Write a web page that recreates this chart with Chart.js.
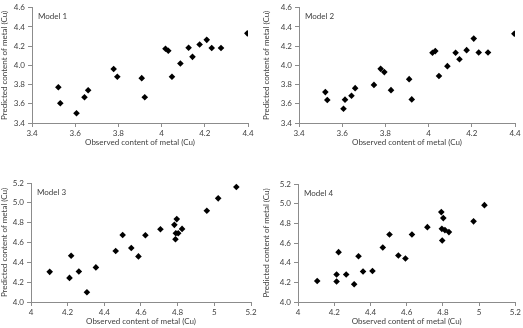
<!DOCTYPE html>
<html>
<head>
<meta charset="utf-8">
<script src="https://cdn.jsdelivr.net/npm/chart.js@4"></script>
<style>
  html, body { margin: 0; padding: 0; background: #fff; }
  #wrap { position: relative; width: 523px; height: 328px; }
  canvas { position: absolute; }
</style>
</head>
<body>
<div id="wrap">
  <canvas id="m1" width="262" height="164" style="left:0;top:0"></canvas>
  <canvas id="m2" width="261" height="164" style="left:262px;top:0"></canvas>
  <canvas id="m3" width="262" height="164" style="left:0;top:164px"></canvas>
  <canvas id="m4" width="261" height="164" style="left:262px;top:164px"></canvas>
</div>
<script>
// observed vs predicted Cu
var obs1 = [3.522, 3.531, 3.606, 3.643, 3.660, 3.778, 3.795, 3.908, 3.922, 4.018, 4.031, 4.048, 4.087, 4.125, 4.143, 4.176, 4.209, 4.232, 4.275, 4.397];
var pred1 = [3.772, 3.605, 3.502, 3.669, 3.741, 3.962, 3.881, 3.867, 3.669, 4.174, 4.153, 3.881, 4.020, 4.184, 4.089, 4.218, 4.266, 4.181, 4.181, 4.334];

var obs2 = [3.522, 3.531, 3.606, 3.613, 3.643, 3.660, 3.747, 3.778, 3.795, 3.826, 3.910, 3.922, 4.018, 4.031, 4.048, 4.087, 4.125, 4.143, 4.176, 4.209, 4.232, 4.275, 4.397];
var pred2 = [3.722, 3.640, 3.548, 3.643, 3.684, 3.763, 3.797, 3.964, 3.930, 3.742, 3.857, 3.646, 4.132, 4.149, 3.889, 3.992, 4.132, 4.064, 4.159, 4.279, 4.135, 4.135, 4.330];

var obs3 = [4.102, 4.210, 4.219, 4.261, 4.305, 4.354, 4.462, 4.500, 4.547, 4.586, 4.624, 4.706, 4.782, 4.788, 4.790, 4.795, 4.803, 4.824, 4.959, 5.021, 5.120];
var pred3 = [4.304, 4.243, 4.467, 4.308, 4.098, 4.349, 4.514, 4.676, 4.545, 4.460, 4.673, 4.734, 4.778, 4.633, 4.694, 4.836, 4.694, 4.737, 4.920, 5.045, 5.160];

var obs4 = [4.106, 4.213, 4.213, 4.224, 4.266, 4.310, 4.334, 4.359, 4.411, 4.468, 4.505, 4.554, 4.593, 4.629, 4.714, 4.791, 4.794, 4.796, 4.802, 4.811, 4.833, 4.969, 5.029];
var pred4 = [4.214, 4.279, 4.208, 4.507, 4.279, 4.180, 4.466, 4.310, 4.316, 4.555, 4.687, 4.473, 4.442, 4.687, 4.761, 4.914, 4.744, 4.626, 4.853, 4.731, 4.711, 4.820, 4.985];

// axis ranges [min, max, step]
var xRangeA = [3.4, 4.4, 0.2], yRangeA = [3.4, 4.6, 0.2];
var xRangeB = [4.0, 5.2, 0.2], yRangeB = [4.0, 5.2, 0.2];

var xTitle = 'Observed content of metal (Cu)';
var yTitle = 'Predicted content of metal (Cu)';

(function () {
    "use strict";
    var FONT = 'Lato, "DejaVu Sans", sans-serif';
    var TXT = '#404040', AXIS = '#8c8c8c';

    var modelLabel = {
        id: 'modelLabel',
        afterDraw: function (chart, args, opts) {
            var ctx = chart.ctx, a = chart.chartArea;
            ctx.save();
            ctx.font = '8px ' + FONT;
            ctx.fillStyle = TXT;
            ctx.textBaseline = 'middle';
            ctx.fillText(opts.text, a.left + 6, a.top + 9);
            ctx.restore();
        }
    };

    function pairs(xs, ys) {
        return xs.map(function (x, i) { return {x: x, y: ys[i]}; });
    }

    function axis(range, title, size, isX, fixedDigits) {
        return {
            type: 'linear',
            min: range[0], max: range[1],
            afterFit: function (s) { if (isX) s.height = size; else s.width = size; },
            afterBuildTicks: function (s) {
                var t = [];
                for (var v = range[0]; v <= range[1] + 1e-9; v += range[2]) t.push({value: +v.toFixed(1)});
                s.ticks = t;
            },
            grid: {display: true, drawOnChartArea: false, drawTicks: true, tickLength: 4, color: AXIS},
            border: {display: true, color: AXIS},
            ticks: {
                color: TXT, padding: isX ? 2 : 3,
                font: {family: FONT, size: 8},
                callback: function (v) { return fixedDigits ? v.toFixed(1) : String(+v.toFixed(1)); }
            },
            title: {display: true, text: title, color: TXT, padding: isX ? {top: 1, bottom: 2} : {top: 0, bottom: 2},
                font: {family: FONT, size: 8}}
        };
    }

    function draw(id, name, xs, ys, xr, yr, pad, yW, xH) {
        new Chart(document.getElementById(id), {
            type: 'scatter',
            data: {datasets: [{
                data: pairs(xs, ys),
                pointStyle: 'rectRot', pointRadius: 3.3,
                backgroundColor: '#000', borderColor: '#000', borderWidth: 0
            }]},
            options: {
                responsive: false, animation: false,
                layout: {padding: pad},
                plugins: {legend: {display: false}, tooltip: {enabled: false}, modelLabel: {text: name}},
                scales: {x: axis(xr, xTitle, xH, true, false), y: axis(yr, yTitle, yW, false, true)}
            },
            plugins: [modelLabel]
        });
    }

    draw('m1', 'Model 1', obs1, pred1, xRangeA, yRangeA, {left: 0, top: 6, right: 14, bottom: 15}, 32, 26);
    draw('m2', 'Model 2', obs2, pred2, xRangeA, yRangeA, {left: 0, top: 6, right: 8, bottom: 15}, 37, 26);
    draw('m3', 'Model 3', obs3, pred3, xRangeB, yRangeB, {left: 0, top: 19, right: 11, bottom: 0}, 31, 26);
    draw('m4', 'Model 4', obs4, pred4, xRangeB, yRangeB, {left: 0, top: 20, right: 7, bottom: 0}, 36, 26);
}());
</script>
</body>
</html>
